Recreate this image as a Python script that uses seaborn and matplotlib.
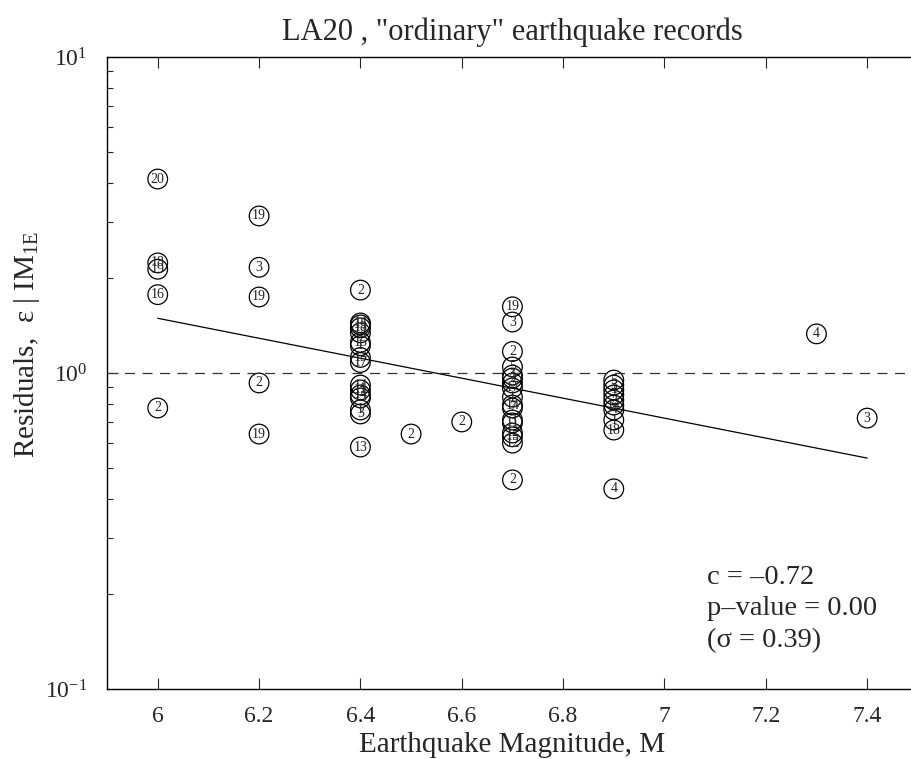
import numpy as np
import pandas as pd
import matplotlib
matplotlib.use("Agg")
import matplotlib.pyplot as plt
import seaborn as sns
from matplotlib.ticker import LogLocator, NullFormatter

# magnitude, residual and record number of each circle
mag = [6.0, 6.0, 6.0, 6.0, 6.0,
       6.2, 6.2, 6.2, 6.2, 6.2,
       6.4, 6.4, 6.4, 6.4, 6.4, 6.4, 6.4, 6.4, 6.4, 6.4, 6.4, 6.4, 6.4, 6.4, 6.4, 6.4,
       6.5, 6.6,
       6.7, 6.7, 6.7, 6.7, 6.7, 6.7, 6.7, 6.7, 6.7, 6.7, 6.7, 6.7, 6.7, 6.7, 6.7, 6.7, 6.7,
       6.9, 6.9, 6.9, 6.9, 6.9, 6.9, 6.9, 6.9, 6.9, 6.9,
       7.3, 7.4]
resid = [4.11, 2.23, 2.13, 1.77, 0.775,
         3.14, 2.16, 1.74, 0.93, 0.641,
         1.83, 1.44, 1.42, 1.39, 1.34, 1.25, 1.22, 1.12, 1.08, 0.916, 0.884, 0.852, 0.834, 0.764, 0.742, 0.583,
         0.641, 0.70,
         1.62, 1.45, 1.17, 1.045, 0.985, 0.964, 0.930, 0.897, 0.839, 0.792, 0.775, 0.710, 0.695, 0.646, 0.628, 0.600, 0.459,
         0.95, 0.916, 0.884, 0.852, 0.821, 0.792, 0.764, 0.710, 0.660, 0.43,
         1.33, 0.72]
rec = [20, 18, 19, 16, 2,
       19, 3, 19, 2, 19,
       2, 14, 15, 18, 14, 15, 1, 13, 17, 14, 11, 14, 13, 1, 3, 13,
       2, 2,
       19, 3, 2, 5, 4, 2, 3, 17, 1, 14, 7, 3, 11, 12, 15, 12, 2,
       5, 3, 1, 7, 2, 14, 4, 1, 18, 4,
       4, 3]

# regression line end points
fit_m = [6.0, 7.4]
fit_r = [1.49, 0.538]

stats = ["c = \u20130.72", "p\u2013value = 0.00", "(\u03c3 = 0.39)"]

df = pd.DataFrame({"mag": mag, "resid": resid, "rec": rec})

sns.set_style("ticks")
plt.rcParams["font.family"] = ["Liberation Serif", "DejaVu Serif"]
plt.rcParams["mathtext.fontset"] = "custom"
plt.rcParams["mathtext.rm"] = "Liberation Serif"
plt.rcParams["mathtext.it"] = "Liberation Serif:italic"

fig = plt.figure(figsize=(9.11, 7.59), dpi=100)
ax = fig.add_axes([0.1175, 0.0922, 0.890, 0.8327])

sns.scatterplot(data=df, x="mag", y="resid", ax=ax, marker="o", s=200,
                facecolor="none", edgecolor="black", linewidth=0.9, legend=False)
for m, r, n in zip(df["mag"], df["resid"], df["rec"]):
    ax.text(m, r, str(n), ha="center", va="center", fontsize=10, color="#222222")

sns.lineplot(x=fit_m, y=fit_r, ax=ax, color="black", linewidth=0.9)
ax.axhline(1.0, color="#333333", linewidth=0.9, linestyle=(0, (8, 6)))

ax.set_yscale("log")
ax.set_xlim(5.9, 7.5)
ax.set_ylim(0.1, 10)
ax.set_xticks([6, 6.2, 6.4, 6.6, 6.8, 7, 7.2, 7.4])
ax.set_xticklabels(["6", "6.2", "6.4", "6.6", "6.8", "7", "7.2", "7.4"])
ax.yaxis.set_major_locator(LogLocator(base=10, numticks=5))
ax.yaxis.set_minor_locator(LogLocator(base=10, subs=np.arange(2, 10), numticks=10))
ax.yaxis.set_minor_formatter(NullFormatter())

ax.tick_params(axis="x", which="both", direction="in", top=True, bottom=True,
               length=8, width=0.8, labelsize=17, pad=12)
ax.tick_params(axis="y", which="major", direction="in", left=True, right=False,
               length=8, width=0.8, labelsize=17, pad=14)
ax.tick_params(axis="y", which="minor", direction="in", left=True, right=False,
               length=4, width=0.8)
for s in ax.spines.values():
    s.set_linewidth(1.0)
    s.set_color("black")

ax.set_title("LA20 , \"ordinary\" earthquake records", fontsize=22, pad=12)
ax.set_xlabel("Earthquake Magnitude, M", fontsize=21, labelpad=4)
ax.set_ylabel("Residuals,  \u03b5 | IM$_{\\mathrm{1E}}$", fontsize=21)
ax.yaxis.set_label_coords(-0.08, 0.545)

for i, t in enumerate(stats):
    ax.text(0.74, 0.177 - i * 0.05, t, transform=ax.transAxes, fontsize=20.5,
            ha="left", va="center")

fig.savefig("out.png", dpi=100)
